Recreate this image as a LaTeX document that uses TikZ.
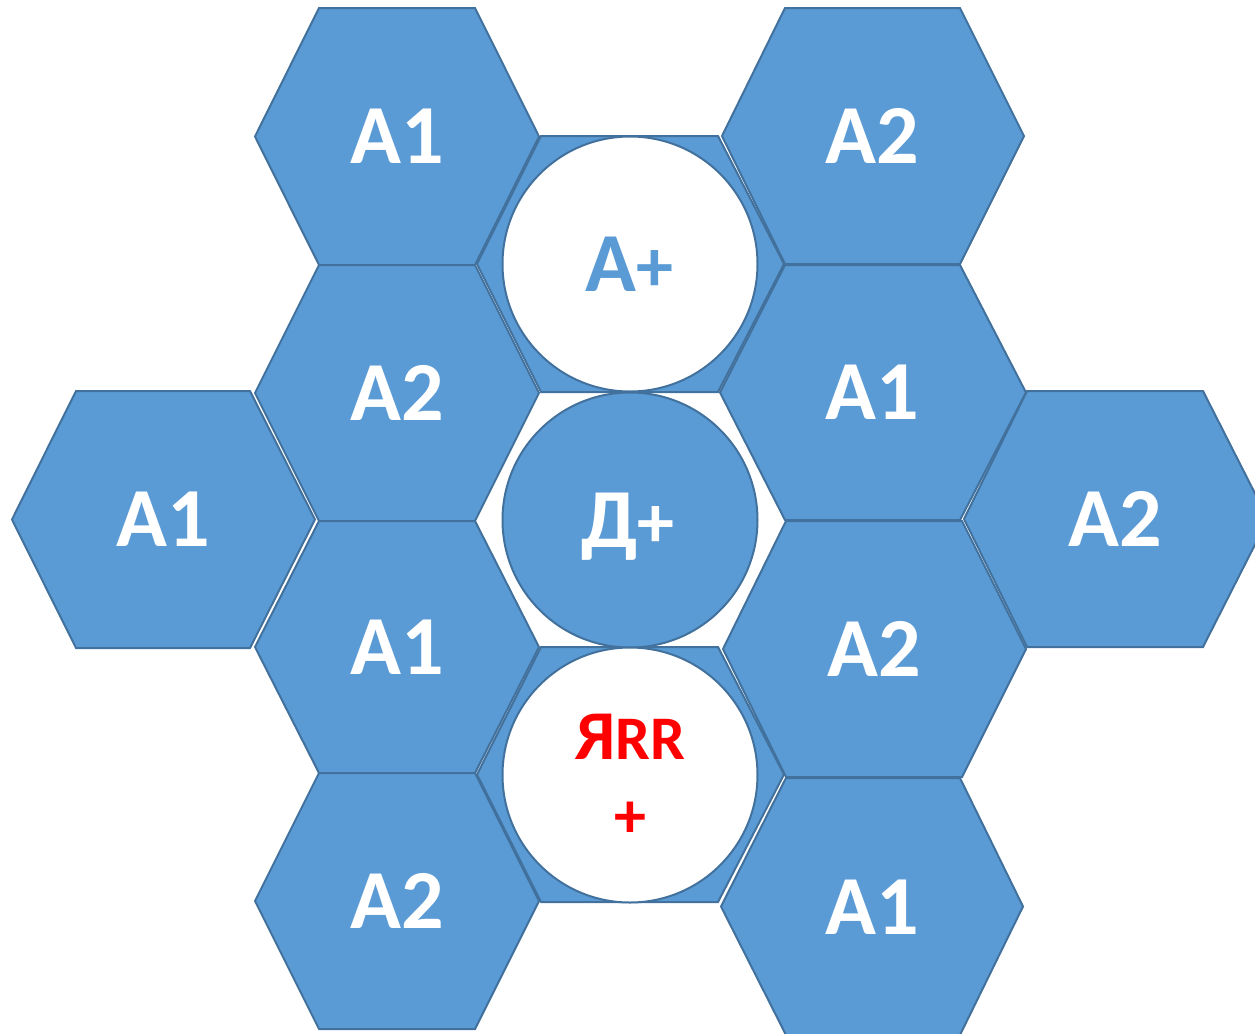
\documentclass[tikz,border=0pt]{standalone}
\usepackage{fontspec}
\setmainfont{Carlito}

\definecolor{cellblue}{HTML}{5B9BD5}
\definecolor{celledge}{HTML}{41719C}

\tikzset{
  cell/.style={fill=cellblue, draw=celledge, line width=1pt},
  ring/.style={circle, draw=celledge, line width=1pt, minimum size=127.5pt, inner sep=0pt},
  tag/.style={text=white, font=\fontsize{42}{50}\selectfont\bfseries, anchor=base, inner sep=0pt},
}

% hexagon: left x, top-left x, top-right x, right x, top y, bottom y
\newcommand{\hexcell}[6]{%
  \draw[cell] (#1,{(#5+#6)/2}) -- (#2,#5) -- (#3,#5) -- (#4,{(#5+#6)/2}) -- (#3,#6) -- (#2,#6) -- cycle;}
% the plus sign is set a little smaller than the letters
\newcommand{\smallplus}[1]{{\fontsize{#1}{#1}\selectfont +}}

\begin{document}
\begin{tikzpicture}[x=0.5pt, y=-0.5pt]
\useasboundingbox (0,0) rectangle (1255,1034);
\clip (0,0) rectangle (1255,1034);

% ---- left column
\hexcell{255}{319}{475}{539}{8}{265}
\hexcell{255}{319}{475}{539}{265}{521}
\hexcell{255}{319}{475}{539}{521}{773}
\hexcell{255}{319}{475}{539}{773}{1029}
% ---- far left
\hexcell{12}{76}{250}{315}{391}{648}

% ---- right column
\hexcell{722}{785}{960}{1024}{8}{264}
\hexcell{720}{785}{960}{1026}{265}{520}
\hexcell{723}{786}{962}{1026}{521}{777}
\hexcell{721}{786}{960}{1023}{778}{1035}
% ---- far right (cut by the edge)
\hexcell{964}{1027}{1203}{1268}{391}{647}

% ---- middle column: two hexes, the one between is left white
\hexcell{477}{541}{718}{784}{136}{392}
\hexcell{477}{541}{718}{784}{647}{902}

% ---- circles
\node[ring, fill=white] (ctop) at (630,264) {};
\node[ring, fill=cellblue] (cmid) at (630,520) {};
\node[ring, fill=white] (cbot) at (630,775) {};

% ---- labels
\node[tag] (l1) at (397,163) {A1};
\node[tag] (l2) at (397,420) {A2};
\node[tag] (l3) at (397,674) {A1};
\node[tag] (l4) at (397,928) {A2};
\node[tag] (l5) at (163,546) {A1};

\node[tag] (r1) at (872,163) {A2};
\node[tag] (r2) at (872,419) {A1};
\node[tag] (r3) at (874,676) {A2};
\node[tag] (r4) at (872,934) {A1};
\node[tag] (r5) at (1115,546) {A2};

\node[tag, text=cellblue] (aplus) at (629,291) {A\smallplus{37}};
\node[tag] (dplus) at (628,547) {Д\smallplus{37}};
\node[tag, text=red] (yrr) at (630,759) {{\fontsize{35}{40}\selectfont Я}{\fontsize{31}{36}\selectfont RR}};
\node[tag, text=red] (yplus) at (630,837) {\smallplus{32}};

\end{tikzpicture}
\end{document}
